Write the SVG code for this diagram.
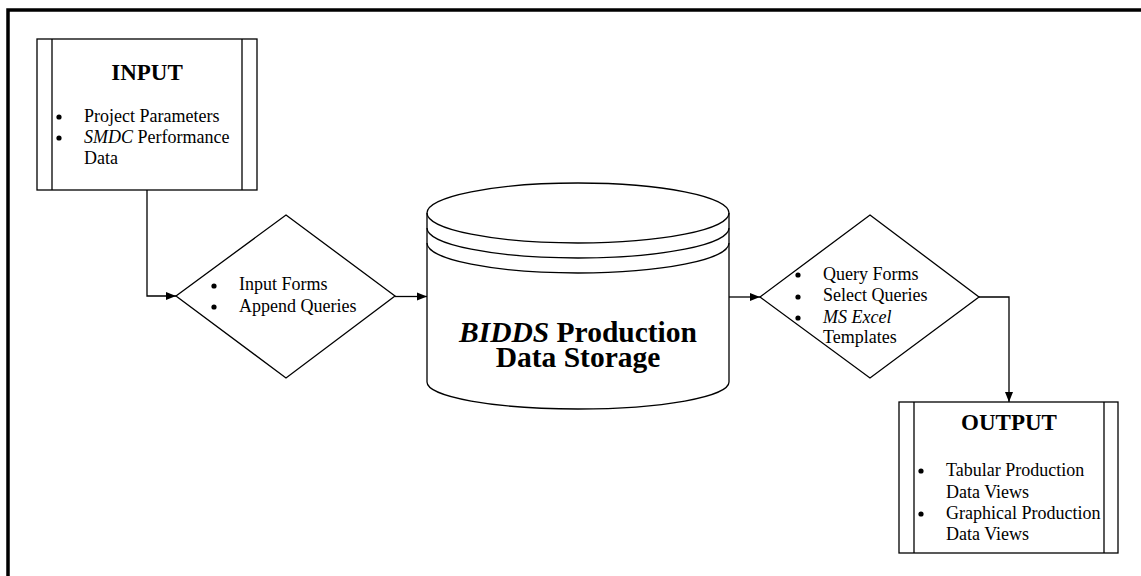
<svg xmlns="http://www.w3.org/2000/svg" width="1141" height="576" viewBox="0 0 1141 576">
<style>
.s{fill:#fff;stroke:#000;stroke-width:1.3}
.l{fill:none;stroke:#000;stroke-width:1.3}
.b{fill:#000}
.t{font-family:"Liberation Serif","Times New Roman",serif;font-size:18px;fill:#000}
.h{font-family:"Liberation Serif","Times New Roman",serif;font-weight:bold;fill:#000}
</style>
<defs>
<marker id="a" markerWidth="10" markerHeight="10" viewBox="0 0 10 10" refX="10" refY="5" orient="auto" markerUnits="userSpaceOnUse">
<path d="M0,1 L10,5 L0,9 Z" fill="#000"/>
</marker>
</defs>
<rect x="0" y="0" width="1141" height="576" fill="#fff"/>
<rect x="8" y="10" width="1200" height="700" fill="none" stroke="#000" stroke-width="3.5"/>
<g id="connectors">
<path class="l" d="M147,190 V296 H176" marker-end="url(#a)"/>
<path class="l" d="M395,296.5 H427" marker-end="url(#a)"/>
<path class="l" d="M729,297 H760" marker-end="url(#a)"/>
<path class="l" d="M979,297 H1009 V402" marker-end="url(#a)"/>
</g>
<g id="input">
<rect class="s" x="37" y="39" width="220" height="151"/>
<line class="l" x1="52" y1="39" x2="52" y2="190"/>
<line class="l" x1="242" y1="39" x2="242" y2="190"/>
<text class="h" x="147" y="80" font-size="23" text-anchor="middle">INPUT</text>
<circle class="b" cx="59" cy="117" r="2.6"/>
<text class="t" x="84" y="122">Project Parameters</text>
<circle class="b" cx="59" cy="138" r="2.6"/>
<text class="t" x="84" y="143"><tspan font-style="italic">SMDC</tspan> Performance</text>
<text class="t" x="84" y="164">Data</text>
</g>
<g id="diamond1">
<polygon class="s" points="286,215 395,296 286,378 176,296"/>
<circle class="b" cx="214" cy="286" r="2.6"/>
<text class="t" x="239" y="290">Input Forms</text>
<circle class="b" cx="214" cy="307" r="2.6"/>
<text class="t" x="239" y="312">Append Queries</text>
</g>
<g id="storage">
<path class="s" d="M427,213 V382 A151,27 0 0 0 729,382 V213 A151,30 0 0 0 427,213 Z"/>
<path class="l" d="M427,213 A151,30 0 0 0 729,213"/>
<path class="l" d="M427,228 A151,30 0 0 0 729,228"/>
<path class="l" d="M427,243 A151,30 0 0 0 729,243"/>
<text class="h" font-size="29.5" text-anchor="middle"><tspan x="578" y="342"><tspan font-style="italic">BIDDS</tspan> Production</tspan><tspan x="578" y="367">Data Storage</tspan></text>
</g>
<g id="diamond2">
<polygon class="s" points="870,215 979,297 870,378 760,297"/>
<circle class="b" cx="798" cy="275" r="2.6"/>
<text class="t" x="823" y="280">Query Forms</text>
<circle class="b" cx="798" cy="297" r="2.6"/>
<text class="t" x="823" y="301">Select Queries</text>
<circle class="b" cx="798" cy="318" r="2.6"/>
<text class="t" x="823" y="323" font-style="italic">MS Excel</text>
<text class="t" x="823" y="343">Templates</text>
</g>
<g id="output">
<rect class="s" x="899" y="402" width="219" height="151"/>
<line class="l" x1="914" y1="402" x2="914" y2="553"/>
<line class="l" x1="1104" y1="402" x2="1104" y2="553"/>
<text class="h" x="1009" y="430" font-size="23" text-anchor="middle">OUTPUT</text>
<circle class="b" cx="921" cy="471" r="2.6"/>
<text class="t" x="946" y="476">Tabular Production</text>
<text class="t" x="946" y="498">Data Views</text>
<circle class="b" cx="921" cy="514" r="2.6"/>
<text class="t" x="946" y="519">Graphical Production</text>
<text class="t" x="946" y="540">Data Views</text>
</g>
</svg>
